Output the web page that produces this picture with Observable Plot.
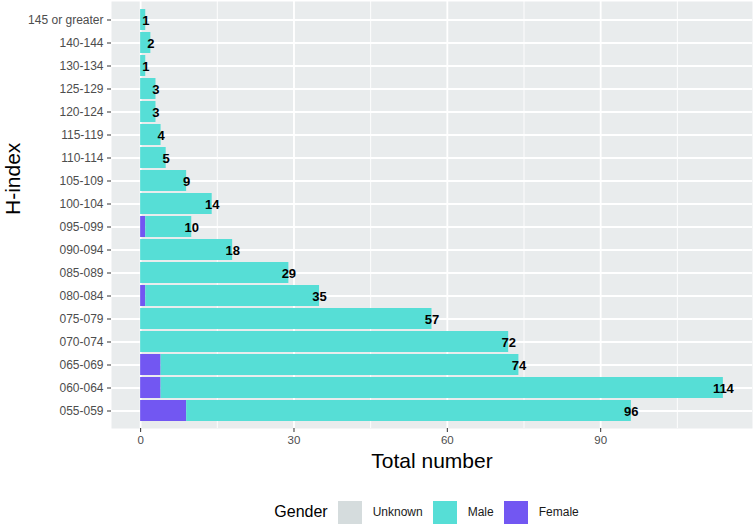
<!DOCTYPE html>
<html>
<head>
<meta charset="utf-8">
<script src="https://cdn.jsdelivr.net/npm/d3@7"></script>
<script src="https://cdn.jsdelivr.net/npm/@observablehq/plot@0.6"></script>
<style>
  html, body { margin: 0; padding: 0; background: #fff; }
  body { width: 755px; height: 527px; overflow: hidden; font-family: "Liberation Sans", Arial, sans-serif; }
  #legend { display: flex; align-items: center; justify-content: center; margin-left: 108px; width: 647px; padding-top: 16px; height: 24px; }
  #legend .title { font-size: 16px; color: #000; margin-right: 10px; }
  #legend .key { width: 24px; height: 23px; margin-right: 11px; }
  #legend .lab { font-size: 12px; color: #1a1a1a; margin-right: 10px; }
</style>
</head>
<body>
<div id="chart"></div>
<div id="legend"></div>
<script>
const categories = ["145 or greater","140-144","130-134","125-129","120-124","115-119","110-114","105-109","100-104","095-099","090-094","085-089","080-084","075-079","070-074","065-069","060-064","055-059"];
const totals  = [1, 2, 1, 3, 3, 4, 5, 9, 14, 10, 18, 29, 35, 57, 72, 74, 114, 96];
const female  = [0, 0, 0, 0, 0, 0, 0, 0, 0, 1, 0, 0, 1, 0, 0, 4, 4, 9];
const unknown = [0, 0, 0, 0, 0, 0, 0, 0, 0, 0, 0, 0, 0, 0, 0, 0, 0, 0];
const genders = ["Unknown", "Male", "Female"];
const genderColors = ["#D5DCDD", "#56DED6", "#7257F2"];
const xTicks = [0, 30, 60, 90];
const xMinor = [15, 45, 75, 105];

const rows = [];
categories.forEach((c, i) => {
  rows.push({category: c, gender: "Female", value: female[i]});
  rows.push({category: c, gender: "Male", value: totals[i] - female[i] - unknown[i]});
  rows.push({category: c, gender: "Unknown", value: unknown[i]});
});
const totalRows = categories.map((c, i) => ({category: c, total: totals[i]}));

const chart = Plot.plot({
  width: 755,
  height: 484,
  marginLeft: 111,
  marginRight: 3,
  marginTop: 1,
  marginBottom: 56,
  style: {fontFamily: "'Liberation Sans', Arial, sans-serif", background: "#fff"},
  x: {domain: [-5.7, 119.7], axis: null},
  y: {type: "band", domain: categories, paddingInner: 0.1, paddingOuter: 0.15, axis: null},
  color: {domain: genders, range: genderColors},
  marks: [
    Plot.frame({fill: "#E9ECED", stroke: "none"}),
    Plot.ruleX(xMinor, {stroke: "#fff", strokeWidth: 0.9}),
    Plot.ruleX(xTicks, {stroke: "#fff", strokeWidth: 1.8}),
    Plot.ruleY(categories, {y: d => d, stroke: "#fff", strokeWidth: 1.8}),
    Plot.barX(rows, Plot.stackX({x: "value", y: "category", fill: "gender", order: ["Female", "Male", "Unknown"]})),
    Plot.text(totalRows, {x: "total", y: "category", text: d => String(d.total), fontSize: 13, fontWeight: "bold", fill: "#000", dy: 1}),
    Plot.axisX({ticks: xTicks, tickSize: 4, tickPadding: 3, label: null, fontSize: 11.5, color: "#4D4D4D", stroke: "#333"}),
    Plot.axisY({tickSize: 4, tickPadding: 4, label: null, fontSize: 12, color: "#4D4D4D", stroke: "#333"}),
    Plot.text(["Total number"], {frameAnchor: "bottom", dy: 39, fontSize: 21, fill: "#000"}),
    Plot.text(["H-index"], {frameAnchor: "left", dx: -98, rotate: -90, fontSize: 21, fill: "#000"})
  ]
});
document.getElementById("chart").appendChild(chart);

const legend = document.getElementById("legend");
const t = document.createElement("span");
t.className = "title"; t.textContent = "Gender";
legend.appendChild(t);
genders.forEach((g, i) => {
  const k = document.createElement("span");
  k.className = "key"; k.style.background = genderColors[i];
  legend.appendChild(k);
  const l = document.createElement("span");
  l.className = "lab"; l.textContent = g;
  legend.appendChild(l);
});
</script>
</body>
</html>
